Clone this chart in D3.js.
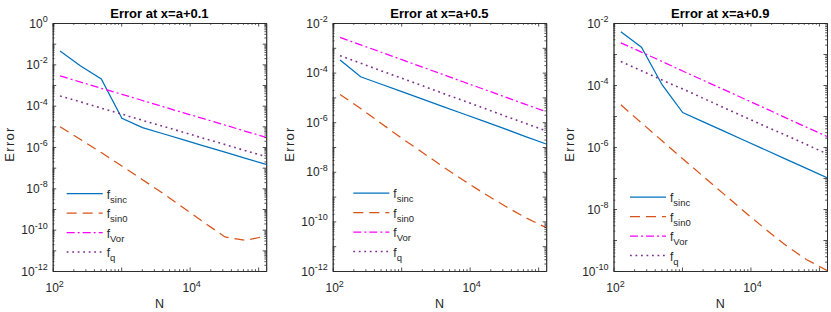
<!DOCTYPE html>
<html>
<head>
<meta charset="utf-8">
<script src="https://cdn.jsdelivr.net/npm/d3@7"></script>
<style>
body { margin: 0; background: #fff; }
text { font-family: "Liberation Sans", Arial, Helvetica, sans-serif; fill: #262626; }
</style>
</head>
<body>
<div id="chart"></div>
<script>
// N = 2^7 ... 2^17
var N = [128, 256, 512, 1024, 2048, 4096, 8192, 16384, 32768, 65536, 131072];

// log10(error)
var sinc1 = [-1.36, -2.08, -2.71, -4.61, -5.06, -5.36, -5.66, -5.96, -6.25, -6.55, -6.84];
var sin01 = [-5.02, -5.64, -6.27, -6.92, -7.58, -8.25, -8.95, -9.66, -10.35, -10.52, -10.30];
var vor1  = [-2.56, -2.86, -3.16, -3.45, -3.75, -4.05, -4.35, -4.64, -4.94, -5.24, -5.53];
var q1    = [-3.53, -3.82, -4.12, -4.41, -4.71, -5.00, -5.29, -5.59, -5.88, -6.18, -6.47];

var sinc2 = [-3.49, -4.17, -4.47, -4.77, -5.07, -5.37, -5.67, -5.97, -6.27, -6.58, -6.88];
var sin02 = [-4.88, -5.45, -6.05, -6.65, -7.22, -7.80, -8.35, -8.88, -9.38, -9.85, -10.25];
var vor2  = [-2.58, -2.88, -3.18, -3.48, -3.78, -4.08, -4.38, -4.68, -4.98, -5.28, -5.58];
var q2    = [-3.32, -3.62, -3.93, -4.23, -4.53, -4.84, -5.14, -5.44, -5.75, -6.05, -6.35];

var sinc3 = [-2.28, -2.78, -3.99, -4.89, -5.19, -5.49, -5.79, -6.09, -6.39, -6.69, -6.99];
var sin03 = [-4.64, -5.22, -5.80, -6.38, -6.95, -7.52, -8.09, -8.64, -9.17, -9.63, -9.98];
var vor3  = [-2.64, -2.94, -3.24, -3.55, -3.85, -4.15, -4.45, -4.75, -5.06, -5.36, -5.66];
var q3    = [-3.24, -3.54, -3.84, -4.13, -4.43, -4.73, -5.03, -5.33, -5.62, -5.92, -6.22];

var titles = ['Error at x=a+0.1', 'Error at x=a+0.5', 'Error at x=a+0.9'];
var yTicks1 = [0, -2, -4, -6, -8, -10, -12];
var yTicks2 = [-2, -4, -6, -8, -10, -12];
var yTicks3 = [-2, -4, -6, -8, -10];
var xTicks = [2, 4];
var xMin = 100, xMax = 131072;
var legendNames = ['sinc', 'sin0', 'Vor', 'q'];

var colors = ['#0072BD', '#D95319', '#FF00FF', '#7E2F8E'];
var dashes = [null, '10,6', '8,3,2,3', '1.8,3.7'];
var widths = [1.25, 1.25, 1.25, 1.6];

var width = 831, height = 312;
var plotTop = 23, plotH = 248, plotW = 213.5;

var panels = [
    { left: 52.7,  yTicks: yTicks1, series: [sinc1, sin01, vor1, q1], legX: 14,   legY: 193.5, labelX: 14 },
    { left: 332.7, yTicks: yTicks2, series: [sinc2, sin02, vor2, q2], legX: 20.6, legY: 193,   labelX: 293.5 },
    { left: 613.5, yTicks: yTicks3, series: [sinc3, sin03, vor3, q3], legX: 16.5, legY: 197,   labelX: 574 }
];

var svg = d3.select('#chart').append('svg')
    .attr('width', width).attr('height', height);

function powLabel(sel, exp) {
    sel.append('tspan').attr('font-size', '12px').text('10');
    sel.append('tspan').attr('font-size', '9px').attr('dy', -5.5).text(exp);
}

function drawPanel(p, index) {
    var g = svg.append('g').attr('transform', 'translate(' + p.left + ',' + plotTop + ')');

    var yMaxExp = p.yTicks[0], yMinExp = p.yTicks[p.yTicks.length - 1];
    var x = d3.scaleLog().domain([xMin, xMax]).range([0, plotW]);
    var y = d3.scaleLog().domain([Math.pow(10, yMinExp), Math.pow(10, yMaxExp)]).range([plotH, 0]);

    // tick positions
    var xMajor = [], xMinor = [];
    for (var d = 2; d <= 5; d++) {
        xMajor.push(Math.pow(10, d));
        for (var m = 2; m <= 9; m++) {
            var v = m * Math.pow(10, d);
            if (v <= xMax) xMinor.push(v);
        }
    }
    var yMajor = [], yMinor = [];
    for (var e = yMinExp; e <= yMaxExp; e++) {
        yMajor.push(Math.pow(10, e));
        if (e < yMaxExp) {
            for (var k = 2; k <= 9; k++) yMinor.push(k * Math.pow(10, e));
        }
    }

    var clipId = 'clip' + index;
    g.append('clipPath').attr('id', clipId)
     .append('rect').attr('width', plotW).attr('height', plotH);

    // data lines
    var line = d3.line()
        .x(function(v, i) { return x(N[i]); })
        .y(function(v) { return y(Math.pow(10, v)); });

    p.series.forEach(function(s, i) {
        g.append('path')
         .attr('clip-path', 'url(#' + clipId + ')')
         .attr('d', line(s))
         .attr('fill', 'none')
         .attr('stroke', colors[i])
         .attr('stroke-width', widths[i])
         .attr('stroke-dasharray', dashes[i]);
    });

    // axes, ticks pointing inward on all four sides
    function axisPair(maker, scale, major, minor, transform) {
        var a = g.append('g').attr('transform', transform || null);
        a.call(maker(scale).tickValues(minor).tickSizeInner(-1.8).tickSizeOuter(0).tickFormat(''));
        var b = g.append('g').attr('transform', transform || null);
        b.call(maker(scale).tickValues(major).tickSizeInner(-3.5).tickSizeOuter(0).tickFormat(''));
        [a, b].forEach(function(s) {
            s.selectAll('path,line').attr('stroke', '#262626').attr('stroke-width', 0.8);
        });
    }
    axisPair(d3.axisBottom, x, xMajor, xMinor, 'translate(0,' + plotH + ')');
    axisPair(d3.axisTop, x, xMajor, xMinor, null);
    axisPair(d3.axisLeft, y, yMajor, yMinor, null);
    axisPair(d3.axisRight, y, yMajor, yMinor, 'translate(' + plotW + ',0)');

    // tick labels
    p.yTicks.forEach(function(t) {
        var txt = g.append('text')
            .attr('x', -5).attr('y', y(Math.pow(10, t)) + 4.5)
            .attr('text-anchor', 'end');
        powLabel(txt, String(t));
    });
    xTicks.forEach(function(t) {
        var txt = g.append('text')
            .attr('x', x(Math.pow(10, t)) + 2).attr('y', plotH + 21)
            .attr('text-anchor', 'middle');
        powLabel(txt, String(t));
    });

    // title and axis labels
    g.append('text')
     .attr('x', plotW / 2).attr('y', -5.5)
     .attr('text-anchor', 'middle')
     .attr('font-size', '13px').attr('font-weight', 'bold')
     .style('fill', '#000')
     .text(titles[index]);

    g.append('text')
     .attr('x', plotW / 2).attr('y', plotH + 37)
     .attr('text-anchor', 'middle')
     .attr('font-size', '12.5px')
     .text('N');

    svg.append('text')
     .attr('transform', 'translate(' + p.labelX + ',' + (plotTop + plotH / 2 - 3) + ') rotate(-90)')
     .attr('text-anchor', 'middle')
     .attr('font-size', '13px')
     .attr('letter-spacing', '1.3px')
     .text('Error');

    // legend
    var leg = g.append('g').attr('transform', 'translate(' + p.legX + ',' + (p.legY - plotTop) + ')');
    legendNames.forEach(function(name, i) {
        var ly = i * 19.5;
        leg.append('line')
           .attr('x1', 0).attr('x2', 36).attr('y1', ly).attr('y2', ly)
           .attr('stroke', colors[i]).attr('stroke-width', widths[i])
           .attr('stroke-dasharray', dashes[i]);
        var txt = leg.append('text').attr('x', 40).attr('y', ly + 5);
        txt.append('tspan').attr('font-size', '12px').text('f');
        txt.append('tspan').attr('font-size', '9.5px').attr('dy', 4).text(name);
    });
}

panels.forEach(drawPanel);
</script>
</body>
</html>
